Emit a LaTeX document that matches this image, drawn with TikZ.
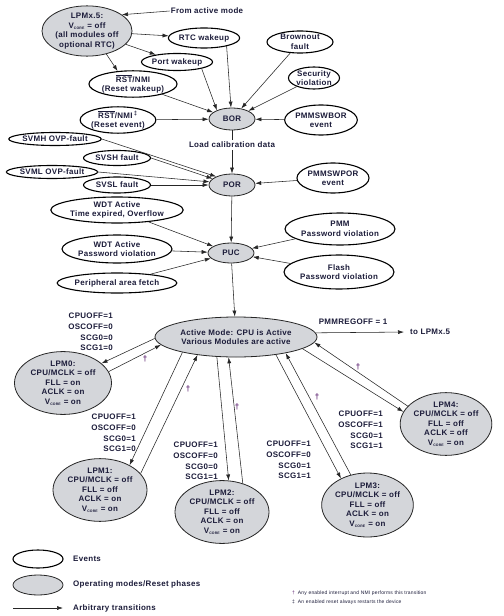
\documentclass[tikz,border=0pt]{standalone}
\usepackage{fontspec}
\setmainfont{Liberation Sans}[LetterSpace=4]
\usetikzlibrary{shapes.geometric,arrows.meta}
\definecolor{txt}{RGB}{28,28,58}
\definecolor{modefill}{RGB}{212,214,218}
\definecolor{dagp}{RGB}{90,30,110}
\newcommand{\Vc}{V\textsubscript{\fontsize{3.5}{4}\selectfont CORE}}
\newcommand{\rstbar}{$\overline{\mbox{RST}}$}
\newcommand{\lblfont}{\fontsize{8}{9.5}\selectfont\bfseries}
\newcommand{\labfont}{\fontsize{8}{10.6}\selectfont\bfseries}
\begin{document}
\begin{tikzpicture}[x=1bp,y=-1bp,
  evt/.style={ellipse,draw=black,line width=1.1bp,fill=white,inner sep=0pt,align=center,font=\lblfont,text=txt},
  md/.style={ellipse,draw=black!85,line width=0.8bp,fill=modefill,inner sep=0pt,align=center,font=\lblfont,text=txt},
  arr/.style={draw=black!85,line width=0.55bp,-{Latex[length=6bp,width=4bp]}},
  lab/.style={font=\labfont,text=txt,align=right,inner sep=0pt,anchor=east},
  txtnode/.style={font=\lblfont,text=txt,inner sep=1bp},
  dag/.style={font=\fontsize{8}{9}\selectfont\bfseries,inner sep=0pt,text=dagp},
  foot/.style={font=\fontsize{5}{6}\selectfont,text=txt,inner sep=0pt,anchor=west}
]
\useasboundingbox[fill=white] (0,0) rectangle (504,616);

% ---- top: LPMx.5 and wakeups
\node[md,minimum width=90bp,minimum height=44bp] (lpmx) at (87,31) {LPMx.5:\\\Vc{} = off\\(all modules off\\optional RTC)};
\node[txtnode] (fam) at (207,11) {From active mode};
\node[evt,minimum width=68bp,minimum height=20bp] (rtc) at (204,38) {RTC wakeup};
\node[evt,minimum width=60bp,minimum height=17bp] (port) at (177,62) {Port wakeup};
\node[evt,minimum width=73bp,minimum height=26bp] (rstw) at (133,84) {\rstbar/NMI\\(Reset wakeup)};
\node[evt,minimum width=67bp,minimum height=24bp] (rste) at (118,120) {\rstbar/NMI\,\textsuperscript{‡}\\(Reset event)};
\node[evt,minimum width=66bp,minimum height=22bp] (brown) at (300,42) {Brownout\\fault};
\node[evt,minimum width=51bp,minimum height=22bp] (sec) at (314,78) {Security\\violation};
\node[evt,minimum width=72bp,minimum height=30bp] (pmmbor) at (321,120) {PMMSWBOR\\event};
\node[md,minimum width=46bp,minimum height=22bp] (bor) at (232,119) {BOR};

% ---- POR
\node[evt,minimum width=80bp,minimum height=13bp] (svmh) at (55,139) {SVMH OVP-fault};
\node[evt,minimum width=67bp,minimum height=15bp] (svsh) at (117,158) {SVSH fault};
\node[evt,minimum width=80bp,minimum height=13bp] (svml) at (52,172) {SVML OVP-fault};
\node[evt,minimum width=67bp,minimum height=16bp] (svsl) at (117,185) {SVSL fault};
\node[md,minimum width=46bp,minimum height=22bp] (por) at (232,185) {POR};
\node[evt,minimum width=70bp,minimum height=30bp] (pmmpor) at (333,178) {PMMSWPOR\\event};

% ---- PUC
\node[evt,minimum width=107bp,minimum height=26bp] (wdt1) at (117,210) {WDT Active\\Time expired, Overflow};
\node[evt,minimum width=107bp,minimum height=28bp] (wdt2) at (117,249) {WDT Active\\Password violation};
\node[evt,minimum width=107bp,minimum height=20bp] (peri) at (117,283) {Peripheral area fetch};
\node[md,minimum width=46bp,minimum height=20bp] (puc) at (231,253) {PUC};
\node[evt,minimum width=104bp,minimum height=32bp] (pmmpw) at (340,229) {PMM\\Password violation};
\node[evt,minimum width=98bp,minimum height=34bp] (flash) at (339,272) {Flash\\Password violation};

% ---- operating modes
\node[md,minimum width=162bp,minimum height=40bp] (act) at (236,337) {Active Mode: CPU is Active\\Various Modules are active};
\node[md,minimum width=97bp,minimum height=57bp] (lpm0) at (63,383) {LPM0:\\CPU/MCLK = off\\FLL = on\\ACLK = on\\\Vc{} = on};
\node[md,minimum width=94bp,minimum height=60bp] (lpm1) at (100,490) {LPM1:\\CPU/MCLK = off\\FLL = off\\ACLK = on\\\Vc{} = on};
\node[md,minimum width=94bp,minimum height=55bp] (lpm2) at (222,512) {LPM2:\\CPU/MCLK = off\\FLL = off\\ACLK = on\\\Vc{} = on};
\node[md,minimum width=91bp,minimum height=64bp] (lpm3) at (367.5,505) {LPM3:\\CPU/MCLK = off\\FLL = off\\ACLK = on\\\Vc{} = on};
\node[md,minimum width=88bp,minimum height=62bp] (lpm4) at (446,424) {LPM4:\\CPU/MCLK = off\\FLL = off\\ACLK = off\\\Vc{} = on};

% ---- transition labels
\node[lab] (l0) at (113,332) {CPUOFF=1\\OSCOFF=0\\SCG0=0\\SCG1=0};
\node[lab] (l1) at (136,433) {CPUOFF=1\\OSCOFF=0\\SCG0=1\\SCG1=0};
\node[lab] (l2) at (218,461) {CPUOFF=1\\OSCOFF=0\\SCG0=0\\SCG1=1};
\node[lab] (l3) at (311,460) {CPUOFF=1\\OSCOFF=0\\SCG0=1\\SCG1=1};
\node[lab] (l4) at (383,430) {CPUOFF=1\\OSCOFF=1\\SCG0=1\\SCG1=1};
\node[txtnode] (pmmreg) at (353,322) {PMMREGOFF = 1};
\node[txtnode,anchor=west,inner sep=0pt] (tolpm) at (410,332) {to LPMx.5};

% daggers
\node[dag] (d0) at (145,359) {†};
\node[dag] (d1) at (188,389) {†};
\node[dag] (d2) at (237,407) {†};
\node[dag] (d3) at (317,397) {†};
\node[dag] (d4) at (358,367) {†};

% ---- connectors top
\draw[arr] (fam.west) -- (lpmx.25);
\draw[arr] (lpmx) -- (rtc);
\draw[arr] (lpmx) -- (port);
\draw[arr] (lpmx.-50) -- (rstw.140);
\draw[arr] (rtc.-20) -- (bor.95);
\draw[arr] (port.-15) -- (bor.150);
\draw[arr] (rstw) -- (bor);
\draw[arr] (rste) -- (bor);
\draw[arr] (brown) -- (bor);
\draw[arr] (sec) -- (bor);
\draw[arr] (pmmbor) -- (bor);
\draw[arr] (bor) -- (por);
\node[txtnode,fill=white,inner sep=2bp] (load) at (232,145) {Load calibration data};
\draw[arr] (svmh.east) -- (por.152);
\draw[arr] (svsh.east) -- (por.162);
\draw[arr] (svml.east) -- (por.172);
\draw[arr] (svsl.east) -- (por.west);
\draw[arr] (pmmpor) -- (por);
\draw[arr] (por) -- (puc);
\draw[arr] (wdt1) -- (puc);
\draw[arr] (wdt2) -- (puc);
\draw[arr] (peri) -- (puc);
\draw[arr] (pmmpw) -- (puc);
\draw[arr] (flash) -- (puc);
\draw[arr] (puc) -- (act);

% ---- mode transitions
\draw[arr] (act.181) -- (lpm0.27);
\draw[arr] (lpm0.14) -- (act.186);
\draw[arr] (act.196) -- (lpm1.40);
\draw[arr] (lpm1.22) -- (act.205);
\draw[arr] (act.226.5) -- (lpm2.78);
\draw[arr] (lpm2.54) -- (act.250);
\draw[arr] (act.336) -- (lpm3.135);
\draw[arr] (lpm3.119) -- (act.342);
\draw[arr] (act.350.7) -- (lpm4.164);
\draw[arr] (lpm4.155) -- (act.356.3);
\draw[arr,shorten >=6bp] (act.3) -- (tolpm.west);

% ---- legend
\node[evt,minimum width=50bp,minimum height=18bp] (lege) at (38,559) {};
\node[txtnode,anchor=west,inner sep=0pt] (legetxt) at (73,559) {Events};
\node[md,minimum width=50bp,minimum height=20bp] (legm) at (38,585) {};
\node[txtnode,anchor=west,inner sep=0pt] (legmtxt) at (73,584) {Operating modes/Reset phases};
\coordinate (la) at (13,608);
\coordinate (lb) at (63,608);
\draw[arr] (la) -- (lb);
\node[txtnode,anchor=west,inner sep=0pt] (legatxt) at (73,608) {Arbitrary transitions};

\node[foot] (f1) at (292,593) {\textcolor{dagp}{†}\hspace{3bp}Any enabled interrupt and NMI performs this transition};
\node[foot] (f2) at (292,602) {‡\hspace{3bp}An enabled reset always restarts the device};
\end{tikzpicture}
\end{document}
